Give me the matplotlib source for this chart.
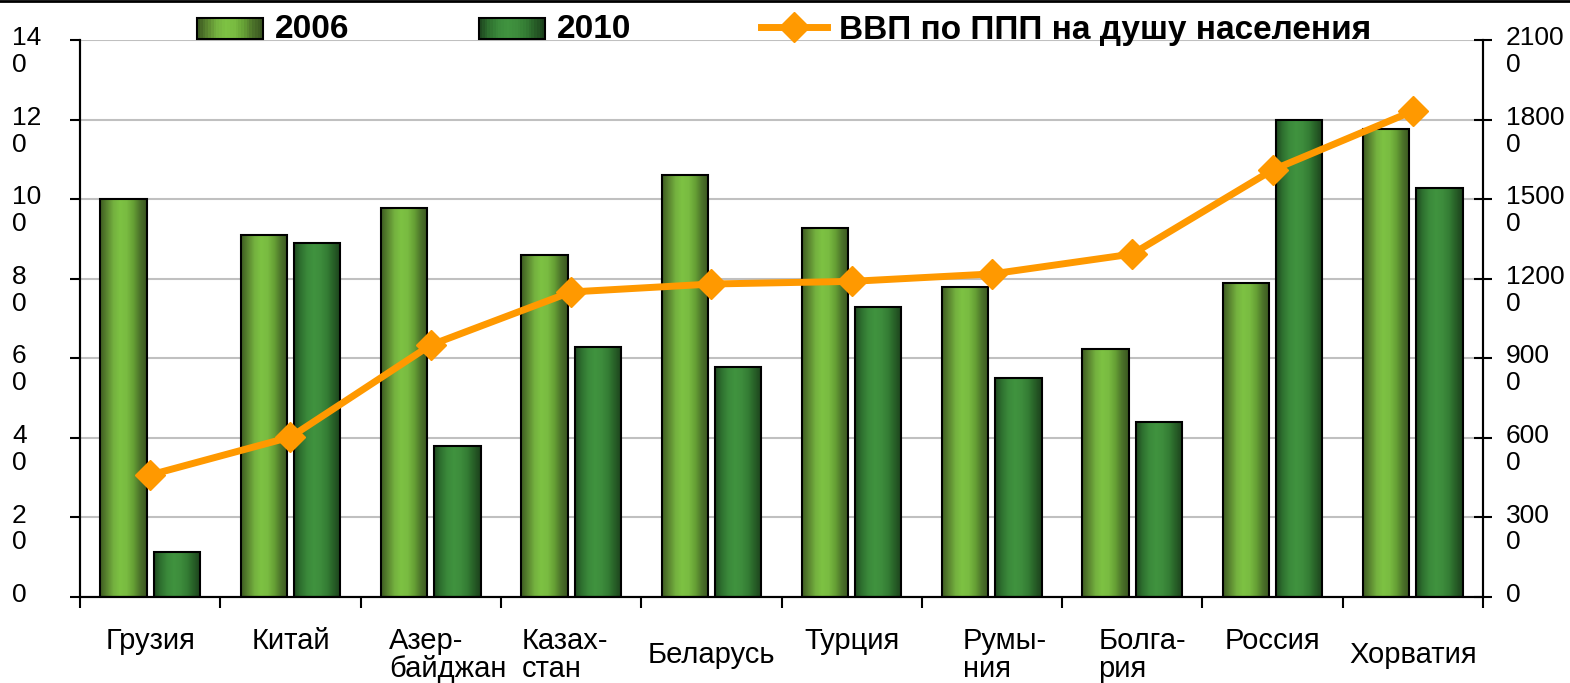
import matplotlib.pyplot as plt
import matplotlib.transforms as mtransforms
from matplotlib.patches import Rectangle, Patch
from matplotlib.lines import Line2D
from matplotlib.ticker import FixedLocator
import numpy as np

plt.rcParams['font.family'] = ['Liberation Sans', 'DejaVu Sans']

countries = ['Грузия\n ', 'Китай\n ', 'Азер-\nбайджан', 'Казах-\nстан', 'Беларусь',
             'Турция\n ', 'Румы-\nния', 'Болга-\nрия', 'Россия\n ', 'Хорватия']
y2006 = [100, 91, 97.8, 86, 106, 92.7, 77.9, 62.3, 78.9, 117.6]
y2010 = [11.3, 89, 38, 62.8, 57.8, 72.9, 55, 44, 119.9, 102.8]
gdp = [4600, 6030, 9500, 11500, 11800, 11900, 12180, 12930, 16100, 18320]

left_ticks = [0, 20, 40, 60, 80, 100, 120, 140]
left_labels = ['0', '2\n0', '4\n0', '6\n0', '8\n0', '10\n0', '12\n0', '14\n0']
right_ticks = [0, 3000, 6000, 9000, 12000, 15000, 18000, 21000]
right_labels = ['0', '300\n0', '600\n0', '900\n0', '1200\n0', '1500\n0', '1800\n0', '2100\n0']

# horizontal shading of the bars (edge -> centre -> edge)
grad2006 = ['#3e5c22', '#5a8630', '#74b13f', '#7dc243', '#79bb41', '#66a035', '#4c722a', '#3a5620']
grad2010 = ['#1f4a20', '#2f7230', '#3b8a3b', '#40933f', '#3d8c3c', '#347c34', '#275e27', '#1c411c']

# small horizontal nudges of the category labels, px
label_dx = [0, 0, 17, -6, 0, 0, 13, 10, 0, 0]


def hex2rgb(h):
    return [int(h[i:i + 2], 16) / 255 for i in (1, 3, 5)]


def gradient(cols, n=64):
    c = np.array([hex2rgb(h) for h in cols])
    xs = np.linspace(0, 1, len(cols))
    t = np.linspace(0, 1, n)
    img = np.stack([np.interp(t, xs, c[:, k]) for k in range(3)], axis=1)
    return img[np.newaxis, :, :]


class GradHandler:
    def __init__(self, cols):
        self.cols = cols

    def legend_artist(self, legend, orig_handle, fontsize, handlebox):
        x0, y0 = handlebox.xdescent, handlebox.ydescent
        w, h = handlebox.width, handlebox.height
        img = gradient(self.cols, 24)[0]
        n = len(img)
        for i, c in enumerate(img):
            r = Rectangle((x0 + w * i / n, y0), w / n + 0.3, h, facecolor=c, edgecolor='none',
                          transform=handlebox.get_transform())
            handlebox.add_artist(r)
        border = Rectangle((x0, y0), w, h, facecolor='none', edgecolor='black', lw=1.5,
                           transform=handlebox.get_transform())
        handlebox.add_artist(border)
        return border


fig = plt.figure(figsize=(15.7, 6.83), dpi=100)
ax = fig.add_axes([80 / 1570, 86 / 683, 1403 / 1570, 557 / 683])
ax2 = ax.twinx()

x = np.arange(len(countries))
w = 0.33
g06 = gradient(grad2006)
g10 = gradient(grad2010)
for xi, a, b in zip(x, y2006, y2010):
    for xc, h, g in ((xi - 0.19, a, g06), (xi + 0.19, b, g10)):
        ax.imshow(g, extent=[xc - w / 2, xc + w / 2, 0, h], aspect='auto', zorder=2,
                  interpolation='bilinear')
        ax.add_patch(Rectangle((xc - w / 2, 0), w, h, facecolor='none', edgecolor='black',
                               lw=1.5, zorder=3))

ax.set_xlim(-0.5, len(countries) - 0.5)
ax.set_ylim(0, 140)
ax.set_aspect('auto')
ax.set_axisbelow(True)
ax.yaxis.grid(True, color='#c0c0c0', lw=1.5)
ax.set_yticks(left_ticks)
ax.set_yticklabels(left_labels, fontsize=19, ha='left', linespacing=1.15)
ax.tick_params(axis='y', direction='out', length=7, width=1.5, pad=42)

ax.xaxis.set_major_locator(FixedLocator(x))
ax.set_xticklabels(countries, fontsize=21, va='center', multialignment='left', linespacing=1.0)
ax.xaxis.set_minor_locator(FixedLocator(np.arange(-0.5, len(countries), 1)))
ax.tick_params(axis='x', which='major', length=0, pad=42)
ax.tick_params(axis='x', which='minor', direction='out', length=8, width=1.5)

ax2.plot(x, gdp, color='#ff9900', lw=5, marker='D', markersize=15, zorder=5)
ax2.set_ylim(0, 21000)
ax2.set_yticks(right_ticks)
ax2.set_yticklabels(right_labels, fontsize=19, linespacing=1.15)
ax2.tick_params(axis='y', direction='inout', length=13, width=1.5, pad=10)

for a in (ax, ax2):
    a.spines['top'].set_visible(False)
    for s in ('left', 'right', 'bottom'):
        a.spines[s].set_linewidth(1.5)

shift = mtransforms.ScaledTranslation(0, 10 / 72, fig.dpi_scale_trans)
for lab in ax.get_yticklabels() + ax2.get_yticklabels():
    lab.set_verticalalignment('top')
    lab.set_transform(lab.get_transform() + shift)

for lab, dx in zip(ax.get_xticklabels(), label_dx):
    lab.set_transform(lab.get_transform()
                      + mtransforms.ScaledTranslation(dx / 100, 0, fig.dpi_scale_trans))

h1 = Patch(label='2006')
h2 = Patch(label='2010')
h3 = Line2D([], [], color='#ff9900', lw=5, marker='D', markersize=15)
fig.legend([h1, h2, h3], ['2006', '2010', 'ВВП по ППП на душу населения'],
           loc='center left', bbox_to_anchor=(197 / 1570, 1 - 30 / 683), ncol=3, frameon=False,
           prop={'weight': 'bold', 'size': 24}, handlelength=1.98, handleheight=0.62,
           handletextpad=0.35, columnspacing=3.9, borderpad=0, borderaxespad=0,
           handler_map={h1: GradHandler(grad2006), h2: GradHandler(grad2010)})

fig.add_artist(Line2D([0, 1], [0.999, 0.999], transform=fig.transFigure, color='black', lw=2))

fig.savefig('out.png', dpi=100)
